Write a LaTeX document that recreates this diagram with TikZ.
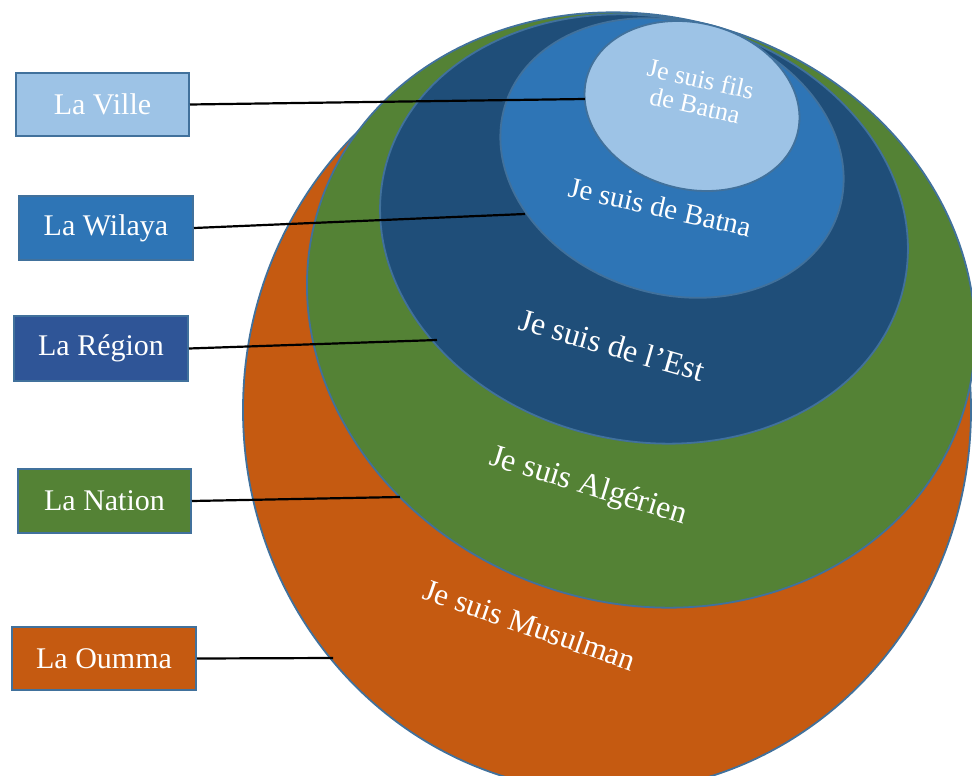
\documentclass[tikz,border=0pt]{standalone}
\usepackage{fontspec}
\setmainfont{Liberation Serif}
\usetikzlibrary{shapes.geometric}
\definecolor{edge}{HTML}{41719C}
\definecolor{villec}{HTML}{9DC3E6}
\definecolor{wilayac}{HTML}{2E75B6}
\definecolor{regionc}{HTML}{1F4E79}
\definecolor{regionbox}{HTML}{2F5597}
\definecolor{nationc}{HTML}{548235}
\definecolor{oummac}{HTML}{C55A11}
\tikzset{
  ring/.style={ellipse, draw=edge, line width=1.8pt, inner sep=0pt},
  levelbox/.style={draw=edge, line width=2pt, text=white, font=\fontsize{30}{33}\selectfont,
    inner sep=0pt, anchor=north west},
  ringlabel/.style={text=white, align=center},
  leader/.style={draw=black, line width=2.2pt}
}
\begin{document}
\begin{tikzpicture}[x=1pt,y=-1pt]
\useasboundingbox (0,0) rectangle (972,776);
\clip (0,0) rectangle (972,776);

% nested identity rings, outermost first
\node[ring, fill=oummac,              minimum width=728pt, minimum height=764pt] (oumma)  at (607,410) {};
\node[ring, fill=nationc, rotate=-18, minimum width=676pt, minimum height=586pt] (nation) at (641,310) {};
\node[ring, fill=regionc, rotate=-12, minimum width=532pt, minimum height=424pt] (region) at (644,229) {};
\node[ring, fill=wilayac, rotate=-18, minimum width=350pt, minimum height=271pt] (wilaya) at (672,158) {};
\node[ring, fill=villec,  rotate=-15, minimum width=218pt, minimum height=166pt] (ville)  at (692,106) {};

% ring captions
\node[ringlabel, font=\fontsize{26}{27}\selectfont, rotate=-12.5] (tville) at (698,92) {Je suis fils\\de Batna};
\node[ringlabel, font=\fontsize{29}{32}\selectfont, rotate=-12.5] (twilaya) at (660,207) {Je suis de Batna};
\node[ringlabel, font=\fontsize{32}{35}\selectfont, rotate=-16] (tregion) at (612,345) {Je suis de l’Est};
\node[ringlabel, font=\fontsize{32}{35}\selectfont, rotate=-17] (tnation) at (588,487) {Je suis Algérien};
\node[ringlabel, font=\fontsize{31}{34}\selectfont, rotate=-19] (toumma)  at (530,625) {Je suis Musulman};

% level boxes
\node[levelbox, fill=villec,    minimum width=173pt, minimum height=63pt] (bville)  at (15,72)  {La Ville};
\node[levelbox, fill=wilayac,   minimum width=174pt, minimum height=64pt] (bwilaya) at (18,195) {La Wilaya};
\node[levelbox, fill=regionbox, minimum width=174pt, minimum height=65pt] (bregion) at (13,315) {La Région};
\node[levelbox, fill=nationc,   minimum width=173pt, minimum height=64pt] (bnation) at (17,468) {La Nation};
\node[levelbox, fill=oummac,    minimum width=184pt, minimum height=63pt] (boumma)  at (11,626) {La Oumma};

% points where the leaders meet their rings
\coordinate (eville)  at (585,99);
\coordinate (ewilaya) at (525,214);
\coordinate (eregion) at (437,340);
\coordinate (enation) at (400,497);
\coordinate (eoumma)  at (333,658);

% leader lines from boxes to their rings
\draw[leader] (bville.east)  -- (eville);
\draw[leader] (bwilaya.east) -- (ewilaya);
\draw[leader] (bregion.east) -- (eregion);
\draw[leader] (bnation.east) -- (enation);
\draw[leader] (boumma.east)  -- (eoumma);
\end{tikzpicture}
\end{document}
